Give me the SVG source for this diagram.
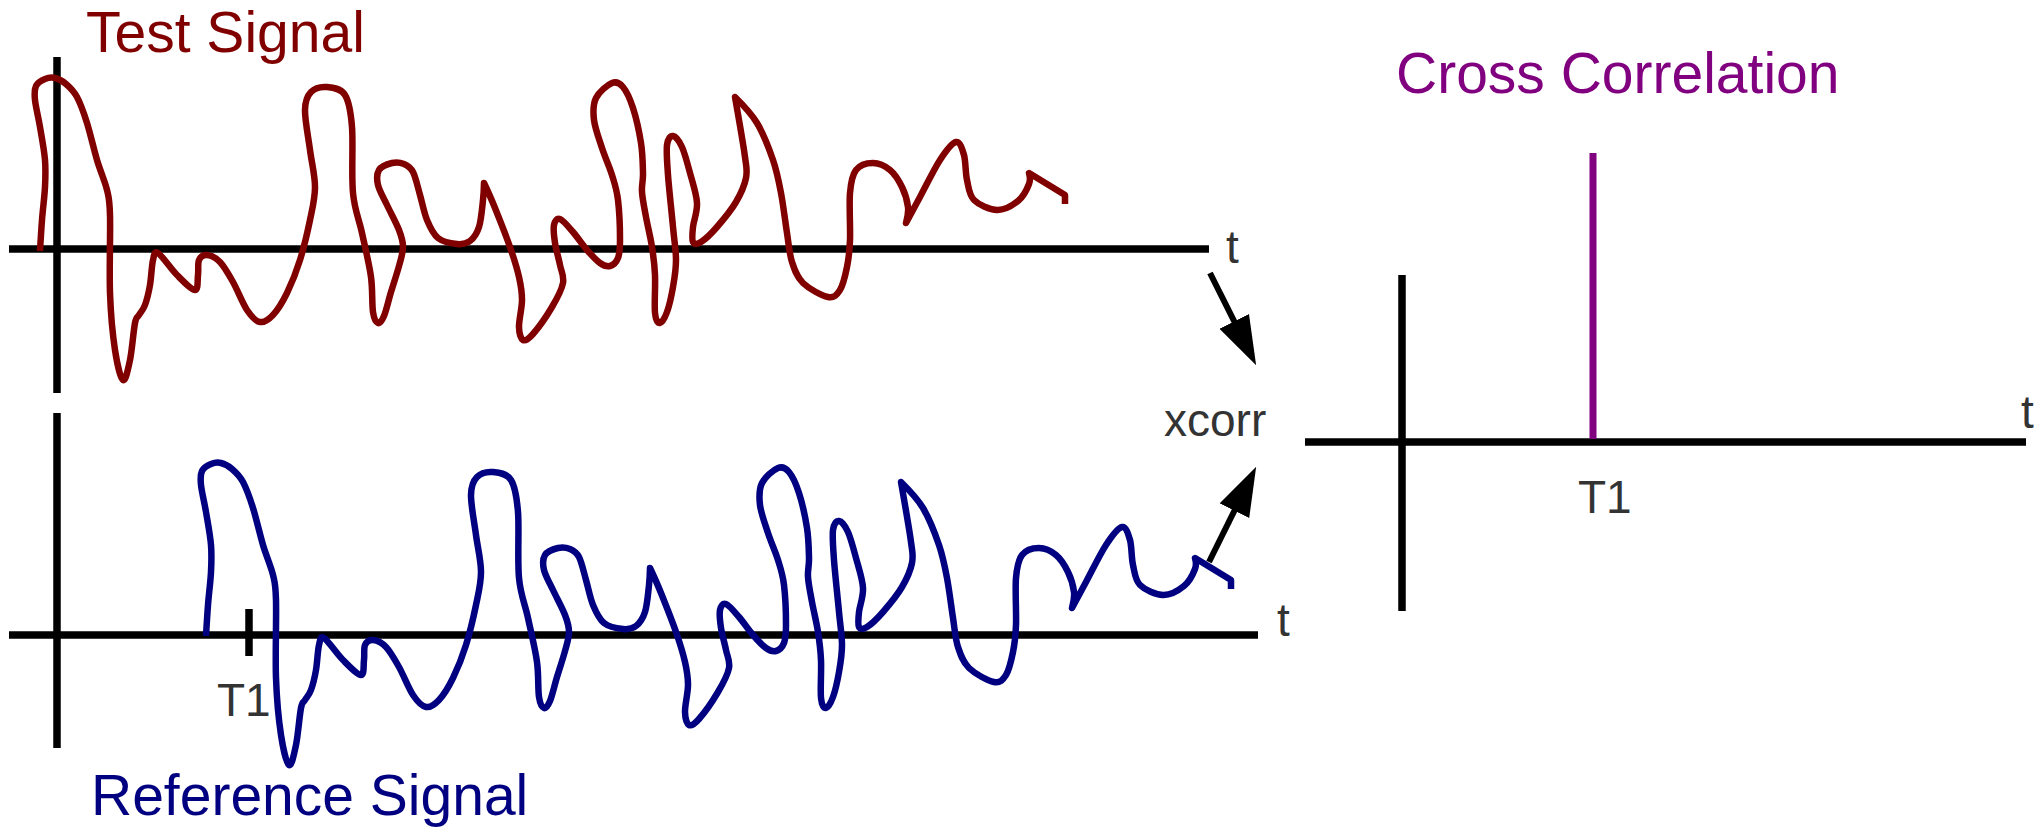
<svg xmlns="http://www.w3.org/2000/svg" xmlns:xlink="http://www.w3.org/1999/xlink" width="2039" height="827" viewBox="0 0 2039 827">
<style>
.axis{stroke:#000;stroke-width:7.5;fill:none;stroke-linecap:butt}
.wave{fill:none;stroke-width:6.5;stroke-linejoin:round;stroke-linecap:butt}
.title{font-family:"Liberation Sans",Arial,sans-serif;font-size:57px}
.lbl{font-family:"Liberation Sans",Arial,sans-serif;font-size:46px;fill:#333333}
.conn{stroke:#000;stroke-width:6;fill:none}
</style>
<defs>
<marker id="head" markerUnits="userSpaceOnUse" markerWidth="52" markerHeight="34" refX="2" refY="16.5" orient="auto" viewBox="0 0 52 34">
<path d="M0,0 L49,16.5 L0,33 z" fill="#000"/>
</marker>
<path id="sig" d="M40,251 C40,251 41.2,230.7 42,220 S44.5,197 45,187 S45.8,170 45,160 S41.7,137 40,127 S35.7,106.8 35,100 S34.3,89.5 36,86 S41.8,80.3 45,79 S51.5,77.2 55,78 S62.3,80.8 66,84 S73.5,90.5 77,97 S83.7,112.5 87,123 S93.7,148.8 97,160 S104.8,180.8 107,190 S109.5,197.8 110,215 S109.2,270.5 110,293 S112.8,335.5 115,350 S120.5,378.3 123,380 S128,369.5 130,360 S133.5,330.5 135,323 S137.3,318 139,315 S143.2,310 145,305 S148.7,292.5 150,285 S151.7,265.3 153,260 S154,250.5 158,253 S170.8,268.8 177,275 S191.5,290 195,290 S197.3,280 198,275 S197.5,263.3 199,260 S203.5,254.7 207,255 S215.7,257.5 220,262 S228.5,274 233,282 S242.5,303.3 247,310 S255.7,321.2 260,322 S268.5,319.8 273,315 S282.5,302.2 287,293 S296.2,272.2 300,260 S307.5,232.2 310,220 S315,198.7 315,187 S311.7,162.8 310,150 S304.8,119.7 305,110 S307.3,95.8 311,92 S321.3,86.5 327,87 S340.8,88.3 345,95 S350.7,110.7 352,127 S351.3,175.3 353,193 S359,219 362,233 S369.2,263.8 371,277 S371.8,304.3 373,312 S376.2,322.3 378,323 S381.8,321.2 384,316 S388.5,300.3 391,292 S397,273.5 399,266 S403,253 403,247 S401.7,237 399,230 S390.5,212.5 387,205 S379.3,190.8 378,185 S376.7,173.7 379,170 S387.8,164 392,163 S400.5,162.5 404,164 S410.3,166.8 413,172 S417.7,187 420,195 S424,212.8 427,220 S433,234 438,238 S451.7,243.5 457,244 S466.3,243.8 470,241 S476.8,233.8 479,227 S482.2,207.3 483,200 S484,183 484,183 S490.7,197.3 495,208 S506,235.5 510,247 S517,268.2 519,277 S522,291.7 522,300 S518.8,320.3 519,327 S520.7,338.8 523,340 S528.2,339.5 533,334 S547,315.5 552,307 S561.7,290 563,283 S561.3,271.7 560,265 S556,249.7 555,243 S553.2,229 554,225 S556.8,217.8 560,219 S568.5,226.8 573,232 S582.5,244.8 587,250 S596.2,260.3 600,263 S607,266.8 610,266 S616.3,262.3 618,258 S620,249.7 620,240 S619.3,210.8 618,200 S614.7,183.7 612,175 S605,157.2 602,148 S595,128.3 594,120 S593,104.2 596,98 S607.5,84.8 612,83 S619.5,82.8 623,87 S630,98.7 633,108 S639.3,132.2 641,143 S642.8,164.8 643,173 S641.5,184.7 642,192 S644.3,207.8 646,217 S650.5,237.3 652,247 S654.5,264 655,275 S654.2,305 655,313 S658,323.2 660,323 S664.8,318 667,312 S671.5,295.7 673,287 S676,270 676,260 S674.3,241.2 673,227 S669,188.7 668,175 S666.2,151.5 667,145 S670.5,135.7 673,136 S679.2,140.8 682,147 S687.5,163.7 690,173 S696.5,194 697,203 S693.7,220.5 693,227 S691.7,239.5 693,242 S697,244.5 701,242 S711.2,233.7 717,227 S731.2,210.2 736,202 S744.5,185.5 746,178 S746.8,170.5 745,157 S735,97 735,97 S750.7,112.5 757,123 S769,148.3 773,160 S778.7,180.8 781,193 S785.2,221.5 787,233 S789.3,253.7 792,262 S797,277.2 803,283 S821.8,295.8 828,297 S836.8,295 840,290 S845.3,275.3 847,267 S849.5,252.3 850,240 S849,204.7 850,193 S852.2,175 856,170 S867.3,163 873,163 S885.2,166 890,170 S899,180.8 902,187 S907.3,201 908,207 S906,223 906,223 S914.3,207.5 920,197 S934,169.2 940,160 S952,142.8 956,142 S962.2,148.7 964,155 S965.3,172.5 967,180 S969,195 974,200 S989.7,209.8 997,210 S1012.7,205.3 1018,201 S1027.2,188.7 1029,184 S1029,173 1029,173 S1065,195 1065,195 L1065,204"/>
</defs>
<rect width="2039" height="827" fill="#fff"/>

<g id="test-signal">
<line class="axis" x1="57" y1="57" x2="57" y2="393"/>
<line class="axis" x1="9" y1="249" x2="1209" y2="249"/>
<use xlink:href="#sig" href="#sig" class="wave" stroke="#800000"/>
<text class="title" x="86" y="52" fill="#800000">Test Signal</text>
<text class="lbl" x="1226" y="263">t</text>
</g>

<g id="reference-signal">
<line class="axis" x1="57" y1="413" x2="57" y2="748"/>
<line class="axis" x1="9" y1="635" x2="1258" y2="635"/>
<line class="axis" x1="249" y1="609" x2="249" y2="656"/>
<use xlink:href="#sig" href="#sig" class="wave" stroke="#000080" transform="translate(166,385)"/>
<text class="lbl" x="217" y="716">T1</text>
<text class="title" x="91" y="815" fill="#000080">Reference Signal</text>
<text class="lbl" x="1277" y="636">t</text>
</g>

<g id="xcorr">
<text class="lbl" x="1164" y="436">xcorr</text>
</g>

<g id="cross-correlation">
<line class="axis" x1="1402" y1="275" x2="1402" y2="611"/>
<line class="axis" x1="1305" y1="442" x2="2026" y2="442"/>
<line x1="1593" y1="153" x2="1593" y2="439" stroke="#800080" stroke-width="7"/>
<text class="title" x="1396" y="93" fill="#800080">Cross Correlation</text>
<text class="lbl" x="1578" y="513">T1</text>
<text class="lbl" x="2021" y="428">t</text>
</g>

<g id="connectors">
<line class="conn" x1="1210" y1="273" x2="1235.1" y2="323.2" marker-end="url(#head)"/>
<line class="conn" x1="1209" y1="562" x2="1235.3" y2="508.9" marker-end="url(#head)"/>
</g>
</svg>
